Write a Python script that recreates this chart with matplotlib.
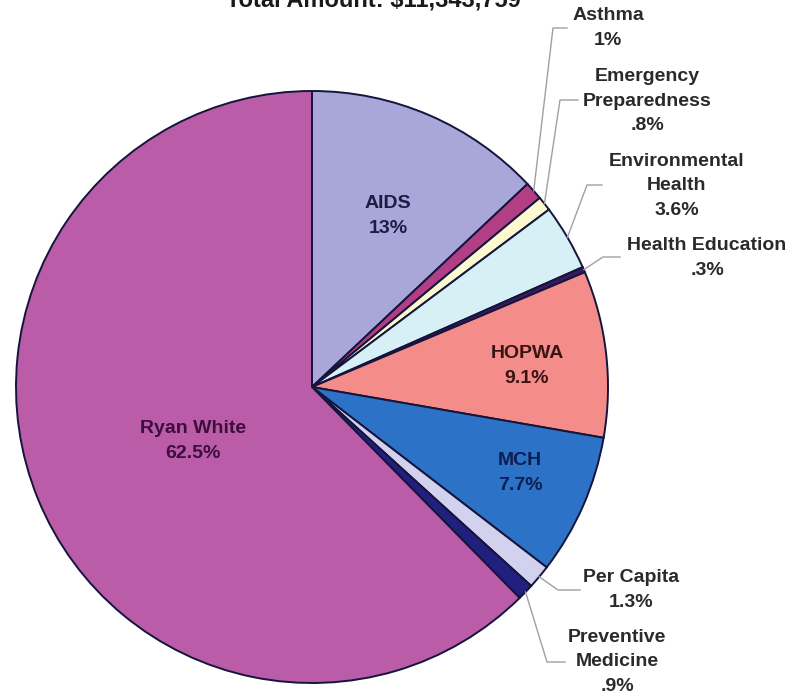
import matplotlib
matplotlib.use("Agg")
import matplotlib.pyplot as plt
import numpy as np

plt.rcParams['font.family'] = ['Liberation Sans', 'DejaVu Sans']

title = "Total Amount: $11,343,759"
programs = ["AIDS", "Asthma", "Emergency\nPreparedness", "Environmental\nHealth",
            "Health Education", "HOPWA", "MCH", "Per Capita",
            "Preventive\nMedicine", "Ryan White"]
shares = [13, 1, 0.8, 3.6, 0.3, 9.1, 7.7, 1.3, 0.9, 62.5]
share_labels = ["13%", "1%", ".8%", "3.6%", ".3%", "9.1%", "7.7%", "1.3%", ".9%", "62.5%"]
colors = ["#A9A6DA", "#B23F86", "#FCF8CF", "#D6F0F6", "#3A1A5C",
          "#F48C8A", "#2C72C6", "#D3D2EE", "#22207E", "#BA5CA8"]

W, H = 791, 698
CX, CY, R = 312, 387, 296


def px(x, y):
    # pixel position in the picture -> data units of the pie axes
    return (x - CX) / R, (CY - y) / R


fig = plt.figure(figsize=(W / 100, H / 100), dpi=100)
ax = fig.add_axes([(CX - R) / W, (H - CY - R) / H, 2 * R / W, 2 * R / H])

wedges, _ = ax.pie(shares, colors=colors, startangle=90, counterclock=False,
                   radius=1, wedgeprops=dict(edgecolor="#14143C", linewidth=1.4))
ax.set_xlim(-1, 1)
ax.set_ylim(-1, 1)
ax.set_aspect("equal")
ax.axis("off")

fs = 14
ls = 1.6

# labels inside the big slices
inside = {0: ((388, 216), "#1C1C44"), 9: ((193, 441), "#3C0E3E"),
          5: ((527, 366), "#3A1414"), 6: ((520, 473), "#0E1E52")}
for i, (pos, col) in inside.items():
    x, y = px(*pos)
    ax.text(x, y, programs[i] + "\n" + share_labels[i], ha="center", va="center",
            fontsize=fs, fontweight="bold", color=col, linespacing=ls)

# labels outside with leader lines: text centre, elbow, line end
outside = {1: ((608, 28), (553, 28), (567, 28)),
           2: ((647, 101), (560, 100), (578, 100)),
           3: ((677, 186), (587, 185), (602, 185)),
           4: ((707, 258), (603, 257), (620, 257)),
           7: ((631, 590), (558, 590), (580, 590)),
           8: ((617, 662), (547, 662), (565, 662))}
for i, (tpos, elbow, end) in outside.items():
    w = wedges[i]
    ang = np.deg2rad((w.theta1 + w.theta2) / 2)
    sx, sy = np.cos(ang), np.sin(ang)
    ex, ey = px(*elbow)
    fx, fy = px(*end)
    ax.plot([sx, ex, fx], [sy, ey, fy], color="#A0A0A0", lw=1, clip_on=False)
    x, y = px(*tpos)
    ax.text(x, y, programs[i] + "\n" + share_labels[i], ha="center", va="center",
            fontsize=fs, fontweight="bold", color="#2A2A2A", linespacing=ls)

fig.text(373 / W, 1 - 7 / H, title, ha="center", va="baseline",
         fontsize=17, fontweight="bold", color="#1A1A1A")

fig.savefig("out.png", dpi=100)
